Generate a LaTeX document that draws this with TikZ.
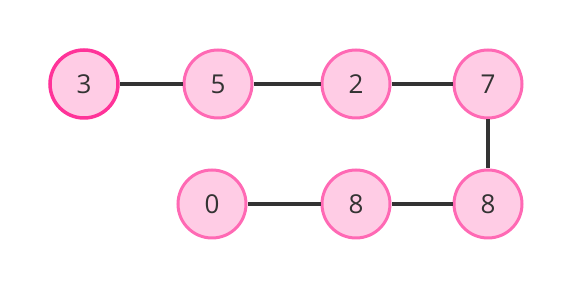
\documentclass[tikz,border=0pt]{standalone}
\usepackage{fontspec}
\setmainfont{Open Sans}
\usetikzlibrary{positioning}
\definecolor{nodefill}{HTML}{FFCCE5}
\definecolor{nodeedge}{HTML}{FF69B4}
\definecolor{headedge}{HTML}{FF3399}
\definecolor{linkgray}{HTML}{333333}
\tikzset{
  elem/.style={circle, minimum size=68pt, inner sep=0pt, fill=nodefill, draw=nodeedge, line width=3pt, text=linkgray, font=\fontsize{26}{30}\selectfont},
  headelem/.style={elem, draw=headedge, line width=3.5pt},
  link/.style={draw=linkgray, line width=3.3pt}
}

\begin{document}
\begin{tikzpicture}[x=1pt,y=-1pt]
\useasboundingbox (0,0) rectangle (574,288);
\node[headelem] (n3) at (84,84) {3};
\node[elem] (n5) at (218,84) {5};
\node[elem] (n2) at (356,84) {2};
\node[elem] (n7) at (488,84) {7};
\node[elem] (n8b) at (488,204) {8};
\node[elem] (n8a) at (356,204) {8};
\node[elem] (n0) at (212,204) {0};
\draw[link] (n3) -- (n5);
\draw[link] (n5) -- (n2);
\draw[link] (n2) -- (n7);
\draw[link] (n7) -- (n8b);
\draw[link] (n8b) -- (n8a);
\draw[link] (n8a) -- (n0);
\end{tikzpicture}
\end{document}
